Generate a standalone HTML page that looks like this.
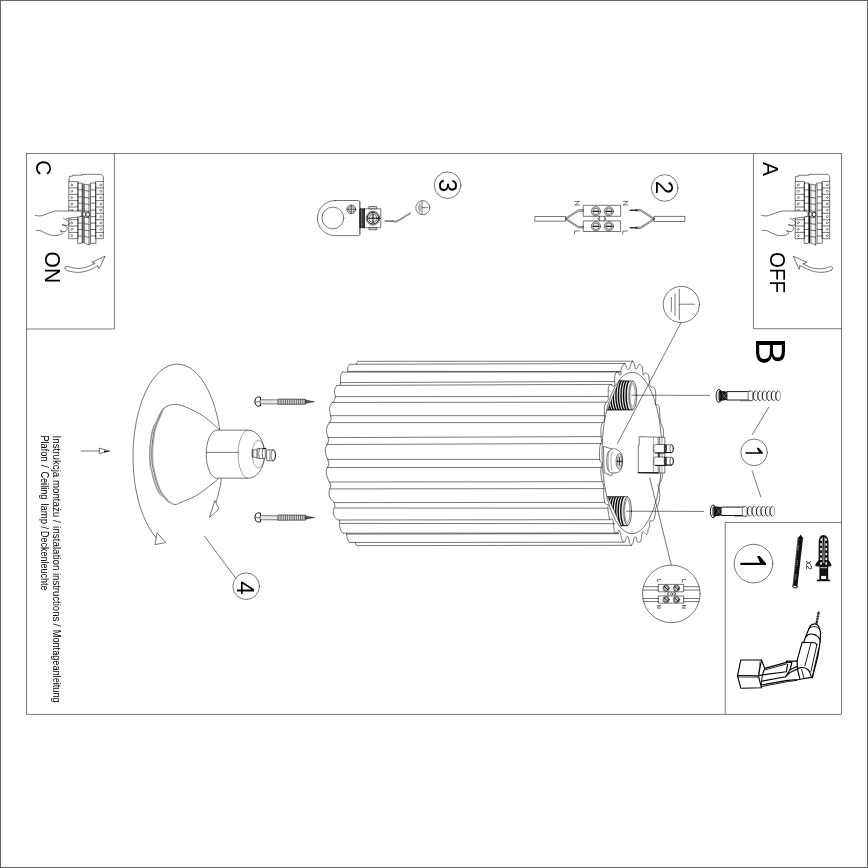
<!DOCTYPE html>
<html><head><meta charset="utf-8"><title>Instrukcja montazu</title>
<style>
html,body{margin:0;padding:0;background:#fff;}
body{width:868px;height:868px;overflow:hidden;position:relative;font-family:"Liberation Sans",sans-serif;}
#b{position:absolute;left:0;top:0;width:866px;height:866px;border:1px solid #666;}
svg{position:absolute;left:0;top:0;will-change:transform;}
svg text{font-family:"Liberation Sans",sans-serif;fill:#000;}
.t{fill:none;stroke:#000;stroke-width:.54;stroke-linejoin:round;stroke-linecap:round}
.f{fill:none;stroke:#000;stroke-width:.52}
.g{fill:none;stroke:#000;stroke-width:.35;stroke-linejoin:round}
.m{fill:none;stroke:#000;stroke-width:.9;stroke-linejoin:round;stroke-linecap:round}
.k{fill:none;stroke:#000;stroke-width:1.4;stroke-linejoin:round}
.b{fill:none;stroke:#000;stroke-width:1.15;stroke-linejoin:round;stroke-linecap:round}
.w{fill:#fff;stroke:#000;stroke-width:.54;stroke-linejoin:round}
.d{fill:#000;stroke:none}
</style></head><body>
<div id="b"></div>
<svg width="868" height="868" viewBox="0 0 868 868">
<!-- frame -->
<rect class="f" x="26.6" y="153.5" width="815.0" height="560.7" />
<path class="f" d="M26.6,329.0 L114.4,329.0 L114.4,153.5" />
<path class="f" d="M753.4,153.5 L753.4,328.7 L841.6,328.7" />
<path class="f" d="M725.2,714.2 L725.2,522.4 L841.6,522.4" />
<text transform="translate(35.8,160.3) rotate(90) scale(0.930,1)" font-size="22.6" >C</text>
<text transform="translate(762.8,162.0) rotate(90) scale(0.930,1)" font-size="22.6" >A</text>
<text transform="translate(44.9,251.6) rotate(90) scale(0.930,1)" font-size="22.6" >ON</text>
<text transform="translate(770.3,252.0) rotate(90) scale(0.905,1)" font-size="22.6" >OFF</text>
<text transform="translate(755.8,337.7) rotate(90) scale(0.965,1)" font-size="42.5" >B</text>
<text transform="translate(52.8,435.6) rotate(90)" font-size="10.3" textLength="87.0" lengthAdjust="spacingAndGlyphs">Instrukcja monta&#380;u /</text>
<text transform="translate(52.8,526.0) rotate(90)" font-size="10.3" textLength="44.6" lengthAdjust="spacingAndGlyphs">instalation</text>
<text transform="translate(52.8,573.0) rotate(90)" font-size="10.3" textLength="48.2" lengthAdjust="spacingAndGlyphs">instructions</text>
<text transform="translate(52.8,623.4) rotate(90)" font-size="10.3" textLength="3.0" lengthAdjust="spacingAndGlyphs">/</text>
<text transform="translate(52.8,629.8) rotate(90)" font-size="10.3" textLength="72.8" lengthAdjust="spacingAndGlyphs">Montageanleitung</text>
<text transform="translate(40.6,435.4) rotate(90)" font-size="10.3" textLength="26.0" lengthAdjust="spacingAndGlyphs">Plafon</text>
<text transform="translate(40.6,464.8) rotate(90)" font-size="10.3" textLength="3.0" lengthAdjust="spacingAndGlyphs">/</text>
<text transform="translate(40.6,471.4) rotate(90)" font-size="10.3" textLength="28.0" lengthAdjust="spacingAndGlyphs">Ceiling</text>
<text transform="translate(40.6,503.4) rotate(90)" font-size="10.3" textLength="20.8" lengthAdjust="spacingAndGlyphs">lamp</text>
<text transform="translate(40.6,526.2) rotate(90)" font-size="10.3" textLength="3.0" lengthAdjust="spacingAndGlyphs">/</text>
<text transform="translate(40.6,531.0) rotate(90)" font-size="10.3" textLength="59.4" lengthAdjust="spacingAndGlyphs">Deckenleuchte</text>
<g transform="translate(0.0,0)">
<path class="t" d="M69.2,181.6 L69.2,176.3 L72.4,176.3 L72.4,175.2 L82.5,175.2 L82.5,174.3 L101.4,174.3 L103.3,176.5 L103.3,181.6" />
<rect class="t" x="69.2" y="181.6" width="8.9" height="57.1" />
<line class="t" x1="69.2" y1="187.9" x2="78.1" y2="187.9" />
<line class="t" x1="69.2" y1="194.3" x2="78.1" y2="194.3" />
<line class="t" x1="69.2" y1="200.6" x2="78.1" y2="200.6" />
<line class="t" x1="69.2" y1="207.0" x2="78.1" y2="207.0" />
<line class="t" x1="69.2" y1="213.3" x2="78.1" y2="213.3" />
<line class="t" x1="69.2" y1="219.7" x2="78.1" y2="219.7" />
<line class="t" x1="69.2" y1="226.0" x2="78.1" y2="226.0" />
<line class="t" x1="69.2" y1="232.4" x2="78.1" y2="232.4" />
<path class="t" d="M71.0,184.8 L72.0,183.8 L73.0,184.8 L72.0,185.8 Z" />
<path class="t" d="M71.0,191.1 L72.0,190.1 L73.0,191.1 L72.0,192.1 Z" />
<path class="t" d="M71.0,197.5 L72.0,196.5 L73.0,197.5 L72.0,198.5 Z" />
<path class="t" d="M71.0,203.8 L72.0,202.8 L73.0,203.8 L72.0,204.8 Z" />
<path class="t" d="M71.0,210.1 L72.0,209.1 L73.0,210.1 L72.0,211.1 Z" />
<path class="t" d="M71.0,216.5 L72.0,215.5 L73.0,216.5 L72.0,217.5 Z" />
<path class="t" d="M71.0,222.8 L72.0,221.8 L73.0,222.8 L72.0,223.8 Z" />
<path class="t" d="M71.0,229.2 L72.0,228.2 L73.0,229.2 L72.0,230.2 Z" />
<path class="t" d="M71.0,235.5 L72.0,234.5 L73.0,235.5 L72.0,236.5 Z" />
<rect class="t" x="95.9" y="181.6" width="7.4" height="57.1" />
<line class="t" x1="95.9" y1="187.9" x2="103.3" y2="187.9" />
<line class="t" x1="95.9" y1="194.3" x2="103.3" y2="194.3" />
<line class="t" x1="95.9" y1="200.6" x2="103.3" y2="200.6" />
<line class="t" x1="95.9" y1="207.0" x2="103.3" y2="207.0" />
<line class="t" x1="95.9" y1="213.3" x2="103.3" y2="213.3" />
<line class="t" x1="95.9" y1="219.7" x2="103.3" y2="219.7" />
<line class="t" x1="95.9" y1="226.0" x2="103.3" y2="226.0" />
<line class="t" x1="95.9" y1="232.4" x2="103.3" y2="232.4" />
<path class="t" d="M100.0,184.8 L101.0,183.8 L102.0,184.8 L101.0,185.8 Z" />
<path class="t" d="M100.0,191.1 L101.0,190.1 L102.0,191.1 L101.0,192.1 Z" />
<path class="t" d="M100.0,197.5 L101.0,196.5 L102.0,197.5 L101.0,198.5 Z" />
<path class="t" d="M100.0,203.8 L101.0,202.8 L102.0,203.8 L101.0,204.8 Z" />
<path class="t" d="M100.0,210.1 L101.0,209.1 L102.0,210.1 L101.0,211.1 Z" />
<path class="t" d="M100.0,216.5 L101.0,215.5 L102.0,216.5 L101.0,217.5 Z" />
<path class="t" d="M100.0,222.8 L101.0,221.8 L102.0,222.8 L101.0,223.8 Z" />
<path class="t" d="M100.0,229.2 L101.0,228.2 L102.0,229.2 L101.0,230.2 Z" />
<path class="t" d="M100.0,235.5 L101.0,234.5 L102.0,235.5 L101.0,236.5 Z" />
<rect class="t" x="78.1" y="183.0" width="4.0" height="60.3" />
<rect class="t" x="90.7" y="183.0" width="5.2" height="60.3" />
<line class="t" x1="78.1" y1="189.9" x2="82.1" y2="189.9" />
<line class="t" x1="90.7" y1="189.9" x2="95.9" y2="189.9" />
<line class="t" x1="78.1" y1="196.8" x2="82.1" y2="196.8" />
<line class="t" x1="90.7" y1="196.8" x2="95.9" y2="196.8" />
<line class="t" x1="78.1" y1="203.2" x2="82.1" y2="203.2" />
<line class="t" x1="90.7" y1="203.2" x2="95.9" y2="203.2" />
<line class="t" x1="78.1" y1="210.2" x2="82.1" y2="210.2" />
<line class="t" x1="90.7" y1="210.2" x2="95.9" y2="210.2" />
<line class="t" x1="78.1" y1="216.6" x2="82.1" y2="216.6" />
<line class="t" x1="90.7" y1="216.6" x2="95.9" y2="216.6" />
<line class="t" x1="78.1" y1="223.1" x2="82.1" y2="223.1" />
<line class="t" x1="90.7" y1="223.1" x2="95.9" y2="223.1" />
<line class="t" x1="78.1" y1="229.5" x2="82.1" y2="229.5" />
<line class="t" x1="90.7" y1="229.5" x2="95.9" y2="229.5" />
<line class="t" x1="78.1" y1="236.0" x2="82.1" y2="236.0" />
<line class="t" x1="90.7" y1="236.0" x2="95.9" y2="236.0" />
<rect class="d" x="82.5" y="183.5" width="1.0" height="59.8" />
<path d="M84.4,184 L89,185 L90.6,185 L90.6,243.3 L89,244.9 L84.4,243 Z" fill="#f6f6f6" stroke="#000" stroke-width=".5"/>
<line class="t" x1="89.0" y1="185.0" x2="89.0" y2="244.9" />
<line class="t" x1="84.4" y1="190.5" x2="89.0" y2="191.1" />
<line class="t" x1="84.4" y1="197.4" x2="89.0" y2="198.0" />
<line class="t" x1="84.4" y1="203.8" x2="89.0" y2="204.4" />
<line class="t" x1="84.4" y1="210.8" x2="89.0" y2="211.4" />
<line class="t" x1="84.4" y1="217.2" x2="89.0" y2="217.8" />
<line class="t" x1="84.4" y1="223.7" x2="89.0" y2="224.3" />
<line class="t" x1="84.4" y1="230.1" x2="89.0" y2="230.7" />
<line class="t" x1="84.4" y1="236.6" x2="89.0" y2="237.2" />
<ellipse class="w" cx="84.2" cy="214.2" rx="1.6" ry="2.1" />
<ellipse class="w" cx="87.6" cy="214.5" rx="1.9" ry="2.3" style="stroke-width:.8"/>
<path class="w" style="stroke:none" d="M55,211.2 L80.8,211.2 L81.5,214 L80,216.8 L67,218.4 L62,218.6 L45,216 Z"/>
<path class="t" d="M35.1,215.3 C35.7,215.4 37.4,215.9 38.5,215.9 C39.6,215.9 40.5,216.0 42.0,215.6 C43.5,215.2 45.4,214.3 47.5,213.6 C49.6,212.9 52.5,211.6 54.9,211.2 C57.3,210.8 59.5,211.0 62.0,211.0 C64.5,211.0 67.2,211.0 70.0,211.0 C72.8,211.0 76.6,210.9 78.5,211.1 C80.4,211.3 80.9,211.8 81.4,212.3 C81.9,212.8 81.8,213.6 81.7,214.3 C81.6,215.0 81.5,215.9 80.6,216.4 C79.6,216.9 77.8,217.0 76.0,217.3 C74.2,217.6 71.5,217.8 70.0,218.0 C68.5,218.2 67.4,218.4 66.9,218.5" />
<path class="t" d="M63.6,218.4 C64.0,218.6 65.1,219.0 66.0,219.6 C66.9,220.2 68.3,221.1 68.8,221.8 C69.3,222.5 69.3,223.2 69.2,223.8 C69.1,224.4 68.8,225.0 68.0,225.2 C67.2,225.4 65.5,225.3 64.5,225.2 C63.5,225.1 62.7,224.9 62.3,224.8" />
<path class="t" d="M62.3,224.8 C62.8,224.9 64.2,225.2 65.0,225.6 C65.8,226.0 66.7,226.7 67.0,227.4 C67.3,228.1 67.1,229.1 66.8,229.8 C66.5,230.5 65.7,231.2 65.0,231.5 C64.3,231.8 63.3,231.4 62.5,231.3 C61.7,231.2 60.8,230.9 60.4,230.8" />
<path class="t" d="M60.4,230.8 C60.7,231.0 62.1,231.5 62.3,232.0 C62.5,232.5 62.4,233.3 61.8,233.8 C61.2,234.3 59.8,234.9 58.5,235.2 C57.2,235.5 55.5,235.7 54.0,235.6 C52.5,235.5 50.9,235.2 49.5,234.8 C48.1,234.4 47.1,233.9 45.7,233.3 C44.3,232.7 42.3,231.5 41.1,231.0 C39.9,230.5 39.4,230.4 38.5,230.3 C37.6,230.2 36.4,230.5 36.0,230.5" />
</g>
<g transform="translate(726.4,0)">
<path class="t" d="M69.2,181.6 L69.2,176.3 L72.4,176.3 L72.4,175.2 L82.5,175.2 L82.5,174.3 L101.4,174.3 L103.3,176.5 L103.3,181.6" />
<rect class="t" x="69.2" y="181.6" width="8.9" height="57.1" />
<line class="t" x1="69.2" y1="187.9" x2="78.1" y2="187.9" />
<line class="t" x1="69.2" y1="194.3" x2="78.1" y2="194.3" />
<line class="t" x1="69.2" y1="200.6" x2="78.1" y2="200.6" />
<line class="t" x1="69.2" y1="207.0" x2="78.1" y2="207.0" />
<line class="t" x1="69.2" y1="213.3" x2="78.1" y2="213.3" />
<line class="t" x1="69.2" y1="219.7" x2="78.1" y2="219.7" />
<line class="t" x1="69.2" y1="226.0" x2="78.1" y2="226.0" />
<line class="t" x1="69.2" y1="232.4" x2="78.1" y2="232.4" />
<path class="t" d="M71.0,184.8 L72.0,183.8 L73.0,184.8 L72.0,185.8 Z" />
<path class="t" d="M71.0,191.1 L72.0,190.1 L73.0,191.1 L72.0,192.1 Z" />
<path class="t" d="M71.0,197.5 L72.0,196.5 L73.0,197.5 L72.0,198.5 Z" />
<path class="t" d="M71.0,203.8 L72.0,202.8 L73.0,203.8 L72.0,204.8 Z" />
<path class="t" d="M71.0,210.1 L72.0,209.1 L73.0,210.1 L72.0,211.1 Z" />
<path class="t" d="M71.0,216.5 L72.0,215.5 L73.0,216.5 L72.0,217.5 Z" />
<path class="t" d="M71.0,222.8 L72.0,221.8 L73.0,222.8 L72.0,223.8 Z" />
<path class="t" d="M71.0,229.2 L72.0,228.2 L73.0,229.2 L72.0,230.2 Z" />
<path class="t" d="M71.0,235.5 L72.0,234.5 L73.0,235.5 L72.0,236.5 Z" />
<rect class="t" x="95.9" y="181.6" width="7.4" height="57.1" />
<line class="t" x1="95.9" y1="187.9" x2="103.3" y2="187.9" />
<line class="t" x1="95.9" y1="194.3" x2="103.3" y2="194.3" />
<line class="t" x1="95.9" y1="200.6" x2="103.3" y2="200.6" />
<line class="t" x1="95.9" y1="207.0" x2="103.3" y2="207.0" />
<line class="t" x1="95.9" y1="213.3" x2="103.3" y2="213.3" />
<line class="t" x1="95.9" y1="219.7" x2="103.3" y2="219.7" />
<line class="t" x1="95.9" y1="226.0" x2="103.3" y2="226.0" />
<line class="t" x1="95.9" y1="232.4" x2="103.3" y2="232.4" />
<path class="t" d="M100.0,184.8 L101.0,183.8 L102.0,184.8 L101.0,185.8 Z" />
<path class="t" d="M100.0,191.1 L101.0,190.1 L102.0,191.1 L101.0,192.1 Z" />
<path class="t" d="M100.0,197.5 L101.0,196.5 L102.0,197.5 L101.0,198.5 Z" />
<path class="t" d="M100.0,203.8 L101.0,202.8 L102.0,203.8 L101.0,204.8 Z" />
<path class="t" d="M100.0,210.1 L101.0,209.1 L102.0,210.1 L101.0,211.1 Z" />
<path class="t" d="M100.0,216.5 L101.0,215.5 L102.0,216.5 L101.0,217.5 Z" />
<path class="t" d="M100.0,222.8 L101.0,221.8 L102.0,222.8 L101.0,223.8 Z" />
<path class="t" d="M100.0,229.2 L101.0,228.2 L102.0,229.2 L101.0,230.2 Z" />
<path class="t" d="M100.0,235.5 L101.0,234.5 L102.0,235.5 L101.0,236.5 Z" />
<rect class="t" x="78.1" y="183.0" width="4.0" height="60.3" />
<rect class="t" x="90.7" y="183.0" width="5.2" height="60.3" />
<line class="t" x1="78.1" y1="189.9" x2="82.1" y2="189.9" />
<line class="t" x1="90.7" y1="189.9" x2="95.9" y2="189.9" />
<line class="t" x1="78.1" y1="196.8" x2="82.1" y2="196.8" />
<line class="t" x1="90.7" y1="196.8" x2="95.9" y2="196.8" />
<line class="t" x1="78.1" y1="203.2" x2="82.1" y2="203.2" />
<line class="t" x1="90.7" y1="203.2" x2="95.9" y2="203.2" />
<line class="t" x1="78.1" y1="210.2" x2="82.1" y2="210.2" />
<line class="t" x1="90.7" y1="210.2" x2="95.9" y2="210.2" />
<line class="t" x1="78.1" y1="216.6" x2="82.1" y2="216.6" />
<line class="t" x1="90.7" y1="216.6" x2="95.9" y2="216.6" />
<line class="t" x1="78.1" y1="223.1" x2="82.1" y2="223.1" />
<line class="t" x1="90.7" y1="223.1" x2="95.9" y2="223.1" />
<line class="t" x1="78.1" y1="229.5" x2="82.1" y2="229.5" />
<line class="t" x1="90.7" y1="229.5" x2="95.9" y2="229.5" />
<line class="t" x1="78.1" y1="236.0" x2="82.1" y2="236.0" />
<line class="t" x1="90.7" y1="236.0" x2="95.9" y2="236.0" />
<rect class="d" x="82.5" y="183.5" width="1.0" height="59.8" />
<path d="M84.4,184 L89,185 L90.6,185 L90.6,243.3 L89,244.9 L84.4,243 Z" fill="#f6f6f6" stroke="#000" stroke-width=".5"/>
<line class="t" x1="89.0" y1="185.0" x2="89.0" y2="244.9" />
<line class="t" x1="84.4" y1="190.5" x2="89.0" y2="191.1" />
<line class="t" x1="84.4" y1="197.4" x2="89.0" y2="198.0" />
<line class="t" x1="84.4" y1="203.8" x2="89.0" y2="204.4" />
<line class="t" x1="84.4" y1="210.8" x2="89.0" y2="211.4" />
<line class="t" x1="84.4" y1="217.2" x2="89.0" y2="217.8" />
<line class="t" x1="84.4" y1="223.7" x2="89.0" y2="224.3" />
<line class="t" x1="84.4" y1="230.1" x2="89.0" y2="230.7" />
<line class="t" x1="84.4" y1="236.6" x2="89.0" y2="237.2" />
<ellipse class="w" cx="84.2" cy="214.2" rx="1.6" ry="2.1" />
<ellipse class="w" cx="87.6" cy="214.5" rx="1.9" ry="2.3" style="stroke-width:.8"/>
<path class="w" style="stroke:none" d="M55,211.2 L80.8,211.2 L81.5,214 L80,216.8 L67,218.4 L62,218.6 L45,216 Z"/>
<path class="t" d="M35.1,215.3 C35.7,215.4 37.4,215.9 38.5,215.9 C39.6,215.9 40.5,216.0 42.0,215.6 C43.5,215.2 45.4,214.3 47.5,213.6 C49.6,212.9 52.5,211.6 54.9,211.2 C57.3,210.8 59.5,211.0 62.0,211.0 C64.5,211.0 67.2,211.0 70.0,211.0 C72.8,211.0 76.6,210.9 78.5,211.1 C80.4,211.3 80.9,211.8 81.4,212.3 C81.9,212.8 81.8,213.6 81.7,214.3 C81.6,215.0 81.5,215.9 80.6,216.4 C79.6,216.9 77.8,217.0 76.0,217.3 C74.2,217.6 71.5,217.8 70.0,218.0 C68.5,218.2 67.4,218.4 66.9,218.5" />
<path class="t" d="M63.6,218.4 C64.0,218.6 65.1,219.0 66.0,219.6 C66.9,220.2 68.3,221.1 68.8,221.8 C69.3,222.5 69.3,223.2 69.2,223.8 C69.1,224.4 68.8,225.0 68.0,225.2 C67.2,225.4 65.5,225.3 64.5,225.2 C63.5,225.1 62.7,224.9 62.3,224.8" />
<path class="t" d="M62.3,224.8 C62.8,224.9 64.2,225.2 65.0,225.6 C65.8,226.0 66.7,226.7 67.0,227.4 C67.3,228.1 67.1,229.1 66.8,229.8 C66.5,230.5 65.7,231.2 65.0,231.5 C64.3,231.8 63.3,231.4 62.5,231.3 C61.7,231.2 60.8,230.9 60.4,230.8" />
<path class="t" d="M60.4,230.8 C60.7,231.0 62.1,231.5 62.3,232.0 C62.5,232.5 62.4,233.3 61.8,233.8 C61.2,234.3 59.8,234.9 58.5,235.2 C57.2,235.5 55.5,235.7 54.0,235.6 C52.5,235.5 50.9,235.2 49.5,234.8 C48.1,234.4 47.1,233.9 45.7,233.3 C44.3,232.7 42.3,231.5 41.1,231.0 C39.9,230.5 39.4,230.4 38.5,230.3 C37.6,230.2 36.4,230.5 36.0,230.5" />
</g>
<path class="t" d="M65.0,268.2 C65.1,267.9 65.1,266.9 65.6,266.6 C66.1,266.3 66.6,266.2 68.0,266.4 C69.4,266.6 72.2,267.7 74.2,268.0 C76.2,268.3 78.0,268.5 80.0,268.4 C82.0,268.3 84.2,267.7 86.0,267.2 C87.8,266.7 89.6,265.8 91.0,265.2 C92.4,264.6 94.0,263.7 94.6,263.4" />
<path class="t" d="M94.6,263.4 L91.8,262.2 L105.1,256.2 L99.1,268.6 L97.7,265.9" />
<path class="t" d="M97.7,265.9 C96.8,266.4 94.1,268.1 92.0,269.0 C89.9,269.9 87.5,270.7 85.3,271.3 C83.1,271.9 81.2,272.3 79.0,272.4 C76.8,272.5 74.0,272.1 72.0,271.8 C70.0,271.5 68.1,271.0 66.9,270.4 C65.7,269.8 65.3,268.6 65.0,268.2" />
<path class="t" d="M803.3,263.7 L806.8,262.3 L793.3,256.2 L799.2,269.5 L799.9,265.7" />
<path class="t" d="M803.3,263.7 C804.0,264.1 806.0,265.5 807.5,266.2 C809.0,266.9 810.9,267.7 812.6,268.1 C814.4,268.5 816.3,268.7 818.0,268.8 C819.7,268.9 821.4,268.7 823.0,268.5 C824.6,268.3 826.2,268.0 827.5,267.6 C828.8,267.2 829.8,266.4 830.6,266.4 C831.5,266.4 832.3,267.2 832.6,267.7 C832.9,268.2 832.6,268.8 832.4,269.2 C832.2,269.6 831.5,270.0 831.3,270.2" />
<path class="t" d="M831.3,270.2 C830.6,270.4 828.4,271.2 827.0,271.6 C825.6,272.0 824.4,272.2 823.0,272.3 C821.6,272.4 819.9,272.3 818.5,272.2 C817.1,272.1 816.1,271.9 814.7,271.6 C813.3,271.3 811.5,270.8 810.0,270.2 C808.5,269.6 807.4,269.1 805.7,268.3 C804.0,267.6 800.9,266.1 799.9,265.7" />
<circle class="t" cx="447.6" cy="185.2" r="13.3" />
<text transform="translate(439.0,185.6) rotate(90) scale(0.970,1)" font-size="25.0" text-anchor="middle">3</text>
<circle class="t" cx="664.7" cy="188.0" r="13.3" />
<text transform="translate(656.1,187.4) rotate(90) scale(1.000,1)" font-size="24.0" text-anchor="middle">2</text>
<circle class="t" cx="754.1" cy="452.4" r="13.3" />
<path class="d" d="M745.5,452.2 L758.8,452.2 L756.7,447.7 L758.7,447.7 L762.8,452.5 L762.8,453.8 L745.5,453.8 Z"/>
<circle class="t" cx="246.2" cy="586.2" r="13.3" />
<text transform="translate(236.8,588.0) rotate(90) scale(1.000,1)" font-size="24.0" text-anchor="middle">4</text>
<circle class="t" cx="753.5" cy="563.6" r="19.3" />
<path class="d" d="M740.4,562.8 L760.1,562.8 L757.0,556.1 L759.7,556.1 L766.0,563.2 L766.0,564.9 L740.4,564.9 Z"/>
<path class="t" d="M335.2,200.5 L358.4,200.5 Q359.6,200.5 359.6,201.7 L359.6,234.4 Q359.6,235.6 358.4,235.6 L335.2,235.6 A17.8,17.55 0 0 1 335.2,200.5 Z"/>
<line class="g" x1="360.4" y1="201.5" x2="360.4" y2="234.6" />
<circle class="t" cx="332.9" cy="218.0" r="10.9" />
<circle class="t" cx="351.3" cy="209.3" r="4.4" style="fill:#ddd"/>
<circle class="g" cx="351.3" cy="209.3" r="2.8" />
<line class="t" x1="347.0" y1="209.3" x2="355.6" y2="209.3" />
<line class="t" x1="351.3" y1="205.0" x2="351.3" y2="213.6" />
<rect class="t" x="360.2" y="208.8" width="4.1" height="18.9" style="fill:#999"/>
<line class="m" x1="360.3" y1="208.8" x2="360.3" y2="227.7" />
<line class="m" x1="362.2" y1="208.8" x2="362.2" y2="227.7" />
<line class="m" x1="364.1" y1="208.8" x2="364.1" y2="227.7" />
<rect class="t" x="364.3" y="208.8" width="16.5" height="18.9" />
<rect class="t" x="369.3" y="206.5" width="7.4" height="2.3" style="fill:#ddd"/>
<rect class="t" x="369.3" y="227.7" width="7.4" height="2.0" style="fill:#ddd"/>
<circle class="t" cx="373.0" cy="218.2" r="6.9" />
<circle class="m" cx="373.0" cy="218.2" r="5.8" />
<circle class="t" cx="373.0" cy="218.2" r="4.2" style="fill:#e4e4e4"/>
<line class="m" x1="368.6" y1="218.2" x2="377.4" y2="218.2" />
<line class="m" x1="373.0" y1="213.8" x2="373.0" y2="222.6" />
<line class="m" x1="385.2" y1="221.0" x2="393.0" y2="221.1" />
<path class="g" d="M392.5,220.6 C392.8,220.8 393.8,221.6 394.5,221.7 C395.2,221.8 395.8,221.8 397.0,221.2 C398.2,220.6 400.4,219.1 402.0,218.0 C403.6,216.9 405.1,215.7 406.5,214.8 C407.9,213.9 409.9,213.0 410.6,212.6" />
<path class="g" d="M393.5,221.6 C393.9,221.7 395.1,222.5 396.0,222.4 C396.9,222.3 397.7,221.6 399.0,220.8 C400.3,220.0 402.5,218.5 404.0,217.6 C405.5,216.7 406.8,216.1 408.0,215.4 C409.2,214.7 410.5,213.9 411.0,213.6" />
<path class="g" d="M392.8,221.2 C393.5,221.0 395.6,220.6 397.0,220.2 C398.4,219.8 399.7,219.6 401.0,218.9 C402.3,218.2 403.4,217.3 405.0,216.3 C406.6,215.3 409.8,213.6 410.8,213.1" />
<circle class="t" cx="422.8" cy="207.7" r="7.0" />
<line class="t" x1="422.0" y1="201.0" x2="422.0" y2="214.4" />
<line class="t" x1="419.9" y1="203.4" x2="419.9" y2="212.0" />
<line class="g" x1="418.6" y1="205.4" x2="418.6" y2="210.0" />
<line class="t" x1="422.0" y1="207.7" x2="427.8" y2="207.7" />
<rect class="t" x="535.2" y="216.5" width="30.5" height="4.7" />
<rect class="t" x="654.4" y="216.4" width="30.5" height="5.1" />
<path class="t" d="M565.7,218.1 L578.4,209.8 L583.6,209.8" />
<path class="t" d="M565.7,218.1 L578.4,226.4 L583.6,226.4" />
<path class="t" d="M654.4,218.3 L640.5,209.5 L636.0,209.5" />
<path class="t" d="M654.4,218.3 L640.5,227.1 L636.0,227.1" />
<path class="t" d="M565.7,219.5 L578.4,211.2 L583.6,211.2" />
<path class="t" d="M565.7,219.5 L578.4,227.8 L583.6,227.8" />
<path class="t" d="M654.4,219.7 L640.5,210.9 L636.0,210.9" />
<path class="t" d="M654.4,219.7 L640.5,228.5 L636.0,228.5" />
<line class="k" x1="629.6" y1="210.2" x2="637.5" y2="210.2" style="stroke-width:1.2"/>
<line class="k" x1="629.6" y1="227.8" x2="637.5" y2="227.8" style="stroke-width:1.2"/>
<rect class="t" x="583.6" y="205.3" width="37.0" height="11.0" />
<rect class="t" x="583.6" y="220.9" width="37.0" height="10.6" />
<path class="t" d="M599.7,216.3 L599.7,218.0 L598.0,218.0 L598.0,219.3 L599.7,219.3 L599.7,220.9" />
<path class="t" d="M604.3,216.3 L604.3,218.0 L606.0,218.0 L606.0,219.3 L604.3,219.3 L604.3,220.9" />
<circle class="t" cx="595.9" cy="211.3" r="4.6" />
<circle class="t" cx="595.9" cy="211.3" r="3.3" style="fill:#eee"/>
<line class="k" x1="592.9" y1="211.3" x2="598.9" y2="211.3" style="stroke-width:1.1"/>
<circle class="t" cx="608.9" cy="211.3" r="4.6" />
<circle class="t" cx="608.9" cy="211.3" r="3.3" style="fill:#eee"/>
<line class="k" x1="605.9" y1="211.3" x2="611.9" y2="211.3" style="stroke-width:1.1"/>
<circle class="t" cx="595.9" cy="226.3" r="4.6" />
<circle class="t" cx="595.9" cy="226.3" r="3.3" style="fill:#eee"/>
<line class="k" x1="592.9" y1="226.3" x2="598.9" y2="226.3" style="stroke-width:1.1"/>
<circle class="t" cx="608.9" cy="226.3" r="4.6" />
<circle class="t" cx="608.9" cy="226.3" r="3.3" style="fill:#eee"/>
<line class="k" x1="605.9" y1="226.3" x2="611.9" y2="226.3" style="stroke-width:1.1"/>
<path class="t" d="M574.8,201.4 L579.6,201.4 L574.8,205.0 L579.6,205.0" />
<path class="t" d="M623.2,201.4 L628.0,201.4 L623.2,205.0 L628.0,205.0" />
<path class="t" d="M574.5,234.0 L574.5,231.0 L579.3,231.0" />
<path class="t" d="M622.8,234.0 L622.8,231.0 L627.6,231.0" />
<!-- lamp -->
<line class="t" x1="358.2" y1="361.3" x2="632.7" y2="361.2" />
<line class="t" x1="350.1" y1="364.3" x2="625.0" y2="363.5" />
<line class="t" x1="347.8" y1="371.4" x2="620.6" y2="371.5" />
<line class="t" x1="342.6" y1="372.1" x2="620.4" y2="372.0" />
<line class="t" x1="340.6" y1="382.6" x2="614.6" y2="381.5" />
<line class="t" x1="336.9" y1="385.4" x2="611.7" y2="384.4" />
<line class="t" x1="335.5" y1="396.7" x2="608.2" y2="396.5" />
<line class="t" x1="332.3" y1="402.4" x2="606.5" y2="402.2" />
<line class="t" x1="330.6" y1="415.7" x2="604.3" y2="415.7" />
<line class="t" x1="329.4" y1="422.6" x2="602.8" y2="422.6" />
<line class="t" x1="328.2" y1="437.6" x2="601.1" y2="436.6" />
<line class="t" x1="327.1" y1="444.5" x2="600.9" y2="443.5" />
<line class="t" x1="327.7" y1="459.4" x2="599.7" y2="459.4" />
<line class="t" x1="327.7" y1="467.5" x2="601.1" y2="467.5" />
<line class="t" x1="329.4" y1="482.0" x2="602.3" y2="481.7" />
<line class="t" x1="330.6" y1="488.9" x2="604.0" y2="488.6" />
<line class="t" x1="334.0" y1="502.6" x2="604.6" y2="502.4" />
<line class="t" x1="335.5" y1="508.0" x2="608.0" y2="508.2" />
<line class="t" x1="339.8" y1="520.0" x2="609.7" y2="519.7" />
<line class="t" x1="340.3" y1="523.4" x2="614.4" y2="523.7" />
<line class="t" x1="343.2" y1="533.2" x2="618.4" y2="533.0" />
<line class="t" x1="346.7" y1="534.1" x2="618.6" y2="533.7" />
<line class="t" x1="349.6" y1="542.5" x2="624.1" y2="542.2" />
<line class="t" x1="357.0" y1="545.6" x2="631.4" y2="545.3" />
<path class="t" d="M358.2,361.3 C358.0,361.5 357.1,362.1 356.8,362.6 C356.5,363.1 356.3,364.0 356.2,364.3" />
<path class="t" d="M350.1,364.3 C349.8,364.6 348.8,365.5 348.4,366.2 C348.0,366.9 347.9,367.5 347.8,368.4 C347.7,369.3 347.8,371.1 347.8,371.6" />
<path class="t" d="M342.6,372.1 C342.4,372.5 341.5,373.5 341.2,374.2 C340.9,374.9 340.7,375.5 340.6,376.5 C340.5,377.5 340.5,379.0 340.5,380.0 C340.5,381.0 340.6,381.8 340.6,382.6 C340.6,383.4 340.6,384.3 340.6,384.6" />
<path class="t" d="M336.9,385.4 C336.6,385.8 335.8,386.8 335.4,387.6 C335.0,388.4 334.7,389.3 334.6,390.3 C334.5,391.3 334.5,392.6 334.6,393.6 C334.7,394.7 335.4,395.6 335.4,396.6 C335.4,397.6 334.9,398.7 334.6,399.5 C334.3,400.3 334.0,401.1 333.6,401.6 C333.2,402.1 332.5,402.3 332.3,402.4" />
<path class="t" d="M332.3,402.4 C332.0,402.8 331.0,403.7 330.6,404.6 C330.2,405.5 329.8,406.4 329.7,407.6 C329.6,408.8 329.6,410.5 329.8,411.8 C330.0,413.1 330.4,414.5 330.6,415.7 C330.8,416.9 331.1,418.2 331.1,419.1 C331.1,420.1 330.7,420.8 330.4,421.4 C330.1,422.0 329.6,422.4 329.4,422.6" />
<path class="t" d="M329.4,422.6 C329.1,423.1 328.1,424.5 327.6,425.6 C327.1,426.8 326.6,428.1 326.5,429.5 C326.4,430.9 326.6,432.4 326.9,433.8 C327.2,435.2 327.9,436.4 328.2,437.6 C328.4,438.8 328.4,440.1 328.4,441.0 C328.3,441.9 328.1,442.6 327.9,443.2 C327.7,443.8 327.2,444.3 327.1,444.5" />
<path class="t" d="M327.1,444.5 C326.9,444.9 326.1,446.1 325.8,447.0 C325.5,447.9 325.3,448.7 325.3,450.0 C325.3,451.3 325.4,453.0 325.8,454.6 C326.2,456.2 327.2,458.1 327.7,459.4 C328.2,460.7 328.5,461.4 328.7,462.4 C328.9,463.4 328.8,464.3 328.6,465.2 C328.4,466.1 327.6,467.1 327.4,467.5" />
<path class="t" d="M327.4,467.5 C327.2,467.9 326.6,469.1 326.4,470.0 C326.2,470.9 326.1,471.7 326.3,473.0 C326.5,474.3 326.9,476.3 327.4,477.8 C327.9,479.3 328.9,480.8 329.4,482.0 C329.9,483.2 330.4,484.3 330.6,485.2 C330.8,486.1 330.6,486.8 330.5,487.4 C330.4,488.0 329.8,488.6 329.7,488.9" />
<path class="t" d="M329.7,488.9 C329.6,489.5 329.1,491.2 329.0,492.4 C328.9,493.6 329.0,494.9 329.4,496.1 C329.8,497.3 330.5,498.7 331.3,499.8 C332.1,500.9 333.4,501.6 334.0,502.6 C334.6,503.6 334.8,504.8 334.9,505.6 C335.0,506.4 334.8,506.7 334.7,507.2 C334.6,507.7 334.1,508.2 334.0,508.4" />
<path class="t" d="M334.0,508.4 C333.9,508.9 333.4,510.4 333.3,511.4 C333.2,512.4 333.3,513.5 333.6,514.5 C333.9,515.5 334.6,516.8 335.2,517.6 C335.8,518.5 336.7,519.2 337.5,519.6 C338.3,520.0 339.4,520.1 339.8,520.2" />
<path class="t" d="M339.8,520.2 C339.7,520.8 339.4,522.5 339.4,523.7 C339.4,524.9 339.6,526.1 339.9,527.2 C340.1,528.4 340.3,529.6 340.9,530.6 C341.4,531.6 342.8,532.9 343.2,533.4" />
<path class="t" d="M346.7,533.9 C346.7,534.3 346.7,535.5 346.8,536.4 C346.9,537.3 347.0,538.2 347.5,539.2 C348.0,540.2 349.2,541.7 349.6,542.2" />
<path class="t" d="M355.3,542.5 C355.4,542.8 355.6,544.0 355.9,544.5 C356.2,545.0 356.8,545.4 357.0,545.6" />
<ellipse class="t" cx="632.0" cy="453.0" rx="30.0" ry="80.7" />
<path class="t" d="M632.7,361.2 C632.6,361.3 632.3,361.1 631.9,361.9 C631.5,362.7 630.8,364.8 630.4,365.9 C630.0,367.0 629.7,368.2 629.3,368.8 C628.9,369.4 628.2,369.6 627.8,369.4 C627.4,369.2 627.1,368.6 626.7,367.7 C626.3,366.8 625.5,364.9 625.2,364.2 C624.9,363.5 625.3,363.4 625.0,363.5 C624.7,363.6 623.7,364.2 623.2,364.8 C622.7,365.4 622.2,366.0 621.8,367.1 C621.4,368.2 621.0,370.6 620.9,371.7 C620.8,372.8 621.4,373.4 621.2,374.0 C621.0,374.6 620.3,375.5 619.8,375.2 C619.3,374.9 618.8,372.8 618.3,372.3 C617.8,371.8 617.4,372.0 616.9,372.3 C616.4,372.6 615.6,373.1 615.2,374.0 C614.8,374.9 614.7,376.8 614.6,378.0 C614.5,379.2 614.6,380.3 614.6,381.5 C614.6,382.7 615.1,384.2 614.9,385.0 C614.7,385.8 613.8,386.2 613.4,386.4 C613.0,386.6 612.6,386.4 612.3,386.1 C612.0,385.8 612.2,384.5 611.7,384.4 C611.2,384.3 609.7,384.8 609.1,385.5 C608.5,386.2 608.5,386.6 608.4,388.4 C608.2,390.2 608.2,394.6 608.2,396.5 C608.2,398.4 608.4,398.9 608.1,399.9 C607.8,400.8 607.0,401.5 606.5,402.2 C606.0,402.9 605.6,403.1 605.2,404.0 C604.9,404.9 604.5,405.7 604.4,407.6 C604.2,409.6 604.3,413.6 604.3,415.7 C604.3,417.8 604.8,418.9 604.5,420.0 C604.2,421.1 603.3,421.8 602.8,422.6 C602.3,423.4 601.8,423.7 601.5,425.0 C601.2,426.3 601.0,428.7 600.9,430.6 C600.8,432.5 601.0,434.9 601.1,436.6 C601.2,438.3 601.7,439.9 601.7,441.0 C601.7,442.1 601.2,442.7 600.9,443.5 C600.6,444.3 600.2,444.6 600.0,446.0 C599.8,447.4 599.5,449.8 599.5,452.0 C599.5,454.2 599.5,457.7 599.7,459.4 C599.9,461.1 600.3,461.3 600.7,462.0 C601.1,462.7 602.1,462.6 602.2,463.5 C602.3,464.4 601.3,466.1 601.1,467.5 C600.9,468.9 600.8,470.4 600.8,472.0 C600.8,473.6 601.1,475.4 601.4,477.0 C601.6,478.6 601.9,480.4 602.3,481.7 C602.7,483.0 603.6,483.8 603.8,484.6 C604.0,485.4 603.4,485.9 603.4,486.6 C603.4,487.3 604.0,487.5 604.0,488.6 C604.0,489.7 603.6,491.4 603.6,493.0 C603.6,494.6 603.8,496.4 604.0,498.0 C604.2,499.6 604.4,501.4 604.6,502.4 C604.9,503.4 604.9,503.4 605.5,503.8 C606.1,504.2 608.0,504.5 608.4,505.0 C608.8,505.5 608.0,506.1 607.9,506.6 C607.8,507.1 608.0,507.3 608.0,508.2 C608.0,509.1 608.0,510.7 608.2,512.0 C608.4,513.3 608.8,514.7 609.0,516.0 C609.2,517.3 609.2,519.2 609.7,519.7 C610.2,520.2 611.5,518.7 612.1,518.9 C612.7,519.1 612.9,519.9 613.1,520.7 C613.3,521.6 613.4,522.9 613.5,524.0 C613.6,525.1 613.7,526.5 613.8,527.6 C613.9,528.7 614.1,529.8 614.3,530.6 C614.5,531.4 614.9,532.1 615.2,532.5 C615.6,532.9 616.0,533.1 616.4,533.2 C616.8,533.3 617.0,533.5 617.3,533.2 C617.6,532.9 618.0,531.9 618.2,531.4 C618.4,530.9 618.4,530.5 618.6,530.4 C618.9,530.3 619.4,530.4 619.7,530.8 C620.0,531.2 620.0,532.0 620.2,532.6 C620.4,533.2 620.5,533.8 620.7,534.6 C620.9,535.4 621.1,536.7 621.3,537.6 C621.5,538.5 621.8,539.4 622.1,540.1 C622.4,540.8 622.7,541.4 623.0,541.8 C623.3,542.1 623.5,542.2 623.8,542.2 C624.1,542.2 624.6,542.0 624.9,541.8 C625.2,541.6 625.4,541.3 625.5,540.8 C625.6,540.3 625.7,539.5 625.8,539.0 C625.9,538.5 626.0,538.2 626.2,537.7 C626.5,537.2 627.0,536.4 627.3,536.3 C627.6,536.2 627.9,536.8 628.1,537.2 C628.3,537.6 628.5,538.0 628.7,538.7 C628.9,539.4 629.2,540.6 629.4,541.4 C629.6,542.2 629.7,542.9 630.0,543.5 C630.3,544.1 631.2,545.0 631.4,545.3" />
<path class="t" d="M632.7,361.2 C632.9,361.3 633.3,361.3 633.6,361.9 C633.9,362.5 634.2,363.8 634.5,364.8 C634.8,365.9 635.0,367.5 635.3,368.2 C635.6,368.9 636.1,369.4 636.5,369.1 C636.9,368.8 637.5,367.3 637.9,366.5 C638.3,365.7 638.4,364.8 638.8,364.5 C639.2,364.2 639.9,364.4 640.5,364.8 C641.1,365.2 641.8,366.0 642.2,367.1 C642.6,368.2 642.6,370.4 642.8,371.7 C642.9,373.0 642.9,374.8 643.1,375.2 C643.3,375.6 643.5,374.8 643.9,374.4 C644.3,374.0 644.8,372.9 645.5,373.0 C646.2,373.1 647.6,373.2 648.3,374.8 C649.0,376.4 649.1,380.3 649.5,382.3 C649.9,384.3 650.0,386.1 650.6,386.9 C651.2,387.7 652.2,386.3 653.0,386.9 C653.8,387.5 654.8,388.4 655.3,390.3 C655.8,392.2 655.8,396.1 655.8,398.4 C655.8,400.7 655.0,403.1 655.3,404.1 C655.6,405.2 656.9,404.1 657.6,404.7 C658.3,405.3 658.9,405.6 659.3,407.6 C659.7,409.6 659.6,414.1 659.9,416.8 C660.2,419.5 660.5,421.8 661.0,423.7 C661.5,425.6 662.7,426.6 663.1,428.3 C663.5,430.0 663.4,432.2 663.4,433.8 C663.4,435.4 663.3,437.0 663.3,437.6" />
<path class="t" d="M662.8,474.0 C662.7,474.6 662.5,476.3 662.2,477.5 C661.9,478.7 661.5,480.0 661.0,481.0 C660.5,482.0 659.5,482.9 659.0,483.6 C658.5,484.3 657.9,484.5 657.8,485.0 C657.7,485.5 658.1,486.0 658.4,486.8 C658.6,487.6 659.0,488.4 659.3,490.0 C659.5,491.6 659.9,494.4 659.9,496.1 C659.9,497.8 659.6,498.9 659.4,500.0 C659.2,501.1 659.0,501.7 658.7,502.6 C658.4,503.5 658.2,504.7 657.7,505.5 C657.2,506.3 656.3,506.6 655.9,507.4 C655.5,508.1 655.4,508.9 655.3,510.0 C655.2,511.1 655.4,512.7 655.3,513.8 C655.2,514.9 655.0,515.8 654.8,516.6 C654.6,517.4 654.4,518.1 654.2,518.7 C654.0,519.3 653.7,520.0 653.4,520.4 C653.1,520.8 652.6,521.1 652.2,521.1 C651.8,521.1 651.1,520.5 650.8,520.5 C650.4,520.5 650.3,520.4 650.1,520.9 C649.9,521.4 649.5,522.6 649.4,523.5 C649.3,524.4 649.9,525.5 649.7,526.3 C649.5,527.1 648.7,527.5 648.4,528.3 C648.1,529.1 648.1,530.2 648.0,531.0 C647.9,531.8 647.9,532.7 647.7,533.2 C647.5,533.7 647.2,534.0 646.9,534.2 C646.6,534.4 646.4,534.5 645.9,534.2 C645.4,533.9 644.4,533.0 643.9,532.5 C643.4,532.0 643.1,531.4 642.8,531.4 C642.5,531.4 642.4,532.3 642.2,532.8 C642.0,533.3 641.9,533.8 641.8,534.6 C641.7,535.4 641.5,536.7 641.4,537.6 C641.3,538.5 641.2,539.4 641.1,540.1 C641.0,540.8 640.7,541.2 640.5,541.6 C640.3,542.0 640.1,542.1 639.7,542.2 C639.4,542.3 638.8,542.4 638.4,542.3 C638.0,542.2 637.6,542.1 637.3,541.8 C637.0,541.4 636.9,540.7 636.8,540.2 C636.7,539.7 636.7,539.2 636.6,538.7 C636.5,538.2 636.2,537.6 636.0,537.2 C635.8,536.9 635.5,536.6 635.2,536.6 C634.9,536.6 634.6,537.0 634.4,537.4 C634.2,537.8 634.0,538.1 633.8,538.7 C633.6,539.3 633.5,540.1 633.4,540.8 C633.3,541.5 633.3,542.2 633.1,542.8 C632.9,543.4 632.7,544.0 632.4,544.4 C632.1,544.8 631.6,545.1 631.4,545.3" />
<g>
<clipPath id="c1"><path d="M619.2,380.6 L632.9,381.0 L632.9,409.8 L607.6,410.0 Z"/></clipPath>
<path d="M619.2,380.6 L632.9,381.0 L632.9,409.8 L607.6,410.0 Z" fill="#e2e2e2" stroke="none"/>
<g clip-path="url(#c1)">
<path d="M630.0,380.2 A3.9,15.1 0 0 0 630.0,410.4" fill="none" stroke="#000" stroke-width="1.35"/>
<path d="M627.4,380.2 A3.9,15.1 0 0 0 627.4,410.4" fill="none" stroke="#000" stroke-width="1.35"/>
<path d="M624.9,380.2 A3.9,15.1 0 0 0 624.9,410.4" fill="none" stroke="#000" stroke-width="1.35"/>
<path d="M622.3,380.2 A3.9,15.1 0 0 0 622.3,410.4" fill="none" stroke="#000" stroke-width="1.35"/>
<path d="M619.8,380.2 A3.9,15.1 0 0 0 619.8,410.4" fill="none" stroke="#000" stroke-width="1.35"/>
<path d="M617.2,380.2 A3.9,15.1 0 0 0 617.2,410.4" fill="none" stroke="#000" stroke-width="1.35"/>
<path d="M614.6,380.2 A3.9,15.1 0 0 0 614.6,410.4" fill="none" stroke="#000" stroke-width="1.35"/>
<path d="M612.1,380.2 A3.9,15.1 0 0 0 612.1,410.4" fill="none" stroke="#000" stroke-width="1.35"/>
<path d="M609.5,380.2 A3.9,15.1 0 0 0 609.5,410.4" fill="none" stroke="#000" stroke-width="1.35"/>
<path d="M607.0,380.2 A3.9,15.1 0 0 0 607.0,410.4" fill="none" stroke="#000" stroke-width="1.35"/>
</g>
<line class="t" x1="619.2" y1="380.6" x2="607.6" y2="410.0" />
<line class="t" x1="619.2" y1="380.6" x2="632.9" y2="381.0" />
<line class="m" x1="607.6" y1="410.0" x2="632.9" y2="409.8" />
<ellipse class="t" cx="632.9" cy="395.3" rx="3.9" ry="14.1" style="fill:#e6e6e6"/>
<ellipse class="g" cx="632.6" cy="395.3" rx="2.6" ry="11.5" style="fill:#fff"/>
</g>
<g>
<clipPath id="c2"><path d="M607.6,496.6 L627.6,496.6 L627.6,525.6 L621.0,525.8 Z"/></clipPath>
<path d="M607.6,496.6 L627.6,496.6 L627.6,525.6 L621.0,525.8 Z" fill="#e2e2e2" stroke="none"/>
<g clip-path="url(#c2)">
<path d="M624.7,496.0 A3.9,15.1 0 0 0 624.7,526.2" fill="none" stroke="#000" stroke-width="1.35"/>
<path d="M622.1,496.0 A3.9,15.1 0 0 0 622.1,526.2" fill="none" stroke="#000" stroke-width="1.35"/>
<path d="M619.6,496.0 A3.9,15.1 0 0 0 619.6,526.2" fill="none" stroke="#000" stroke-width="1.35"/>
<path d="M617.0,496.0 A3.9,15.1 0 0 0 617.0,526.2" fill="none" stroke="#000" stroke-width="1.35"/>
<path d="M614.5,496.0 A3.9,15.1 0 0 0 614.5,526.2" fill="none" stroke="#000" stroke-width="1.35"/>
<path d="M611.9,496.0 A3.9,15.1 0 0 0 611.9,526.2" fill="none" stroke="#000" stroke-width="1.35"/>
<path d="M609.4,496.0 A3.9,15.1 0 0 0 609.4,526.2" fill="none" stroke="#000" stroke-width="1.35"/>
<path d="M606.8,496.0 A3.9,15.1 0 0 0 606.8,526.2" fill="none" stroke="#000" stroke-width="1.35"/>
<path d="M604.2,496.0 A3.9,15.1 0 0 0 604.2,526.2" fill="none" stroke="#000" stroke-width="1.35"/>
<path d="M601.7,496.0 A3.9,15.1 0 0 0 601.7,526.2" fill="none" stroke="#000" stroke-width="1.35"/>
</g>
<line class="t" x1="607.6" y1="496.6" x2="621.0" y2="525.8" />
<line class="t" x1="607.6" y1="496.6" x2="627.6" y2="496.6" />
<line class="m" x1="621.0" y1="525.8" x2="627.6" y2="525.6" />
<ellipse class="t" cx="627.6" cy="511.1" rx="3.9" ry="14.1" style="fill:#e6e6e6"/>
<ellipse class="g" cx="627.3" cy="511.1" rx="2.6" ry="11.5" style="fill:#fff"/>
</g>
<line class="t" x1="631.8" y1="395.2" x2="709.7" y2="395.4" />
<line class="t" x1="626.5" y1="511.2" x2="703.5" y2="511.4" />
<line class="t" x1="680.9" y1="322.9" x2="617.3" y2="443.7" />
<circle class="t" cx="681.3" cy="304.5" r="18.1" />
<line class="t" x1="679.3" y1="289.4" x2="679.3" y2="319.6" />
<line class="t" x1="675.0" y1="294.0" x2="675.0" y2="315.6" />
<line class="t" x1="671.3" y1="297.3" x2="671.3" y2="311.5" />
<line class="t" x1="679.3" y1="304.2" x2="694.4" y2="304.2" />
<path class="t" d="M615.9,449.2 L611.0,448.7 L603.5,446.4 L603.8,460.0 L604.1,472.9 L611.6,475.7 L612.7,472.9" />
<path class="t" d="M615.9,449.2 C616.4,449.4 617.8,449.8 618.6,450.4 C619.4,451.0 620.2,451.8 620.8,452.7 C621.4,453.6 621.8,454.6 622.1,455.6 C622.4,456.7 622.5,457.6 622.5,459.0 C622.5,460.4 622.5,462.4 622.3,464.0 C622.1,465.6 621.7,467.2 621.3,468.3 C620.9,469.4 620.4,470.1 619.8,470.8 C619.2,471.5 618.6,472.0 617.9,472.3 C617.2,472.6 616.3,472.8 615.4,472.9 C614.5,473.0 613.5,473.0 612.7,472.9 C611.9,472.8 611.1,472.7 610.4,472.4 C609.7,472.1 609.2,471.8 608.7,471.1 C608.2,470.4 607.8,469.4 607.5,468.4 C607.2,467.3 607.0,466.2 606.9,464.8 C606.8,463.4 606.8,461.6 606.8,460.0 C606.8,458.4 607.0,456.2 607.2,455.0 C607.4,453.8 607.7,453.3 608.0,452.6 C608.3,451.9 608.8,451.4 609.2,451.0 C609.6,450.6 610.1,450.2 610.6,450.0 C611.1,449.8 611.9,449.6 612.1,449.5" style="fill:#fff"/>
<path class="g" d="M612.7,451.0 C612.5,451.7 611.7,453.7 611.4,455.0 C611.1,456.3 611.0,457.3 611.0,459.0 C611.0,460.7 611.1,463.1 611.2,465.0 C611.3,466.9 611.7,469.7 611.8,470.6" />
<path class="g" d="M609.2,451.0 C609.1,451.8 608.5,454.2 608.3,456.0 C608.1,457.8 608.1,460.2 608.1,462.0 C608.1,463.8 608.2,465.5 608.4,467.0 C608.5,468.5 608.9,470.5 609.0,471.2" />
<ellipse class="t" cx="619.3" cy="461.3" rx="3.2" ry="7.8" style="fill:#f2f2f2"/>
<ellipse class="g" cx="619.5" cy="461.3" rx="2.1" ry="5.4" />
<line class="m" x1="619.3" y1="457.4" x2="619.3" y2="464.9" />
<line class="m" x1="617.1" y1="461.3" x2="621.4" y2="461.3" />
<path class="w" d="M639.2,436.6 L657.3,437.2 L664.8,437.4 L664.8,473 L657.9,472.9 L638.3,472.6 L638.3,445.5 L639.2,445.3 Z"/>
<line class="b" x1="638.3" y1="472.7" x2="657.9" y2="472.9" />
<line class="g" x1="653.4" y1="437.0" x2="653.4" y2="472.6" />
<line class="t" x1="658.2" y1="437.2" x2="658.2" y2="473.0" />
<line class="t" x1="659.7" y1="437.2" x2="659.7" y2="473.0" />
<line class="g" x1="662.0" y1="437.4" x2="662.0" y2="473.0" />
<path class="w" d="M655.6,444.5 L664.3,444.5 L664.3,452.9 L655.6,452.9 Q653.8,452.9 653.8,451.3 L653.8,446.1 Q653.8,444.5 655.6,444.5 Z"/>
<path class="w" d="M665.2,444.8 L671.7,444.8 A1.8,3.9 0 0 1 671.7,452.6 L665.2,452.6 Z"/>
<ellipse class="t" cx="671.6" cy="448.7" rx="1.7" ry="3.8" />
<path class="m" d="M664.6,444.5 A1.8,4.2 0 0 1 664.6,452.9"/>
<path class="m" d="M666.4,444.8 A1.6,3.9 0 0 0 666.4,452.6"/>
<line class="m" x1="655.6" y1="452.9" x2="664.3" y2="453.0" />
<line class="m" x1="665.2" y1="452.6" x2="671.7" y2="452.6" />
<path class="w" d="M655.6,457.0 L664.3,457.0 L664.3,465.4 L655.6,465.4 Q653.8,465.4 653.8,463.8 L653.8,458.6 Q653.8,457.0 655.6,457.0 Z"/>
<path class="w" d="M665.2,457.3 L671.7,457.3 A1.8,3.9 0 0 1 671.7,465.1 L665.2,465.1 Z"/>
<ellipse class="t" cx="671.6" cy="461.2" rx="1.7" ry="3.8" />
<path class="m" d="M664.6,457.0 A1.8,4.2 0 0 1 664.6,465.4"/>
<path class="m" d="M666.4,457.3 A1.6,3.9 0 0 0 666.4,465.1"/>
<line class="m" x1="655.6" y1="465.4" x2="664.3" y2="465.5" />
<line class="m" x1="665.2" y1="465.1" x2="671.7" y2="465.1" />
<line class="m" x1="658.9" y1="453.0" x2="658.9" y2="457.0" />
<line class="t" x1="649.8" y1="478.1" x2="671.3" y2="565.1" />
<circle class="t" cx="671.3" cy="593.9" r="28.8" />
<rect class="t" x="658.6" y="584.4" width="25.1" height="7.4" />
<rect class="t" x="658.6" y="595.9" width="25.1" height="7.2" />
<path class="t" d="M668.6,591.8 L668.6,593.0 L667.4,593.0 L667.4,594.8 L668.6,594.8 L668.6,595.9" />
<path class="t" d="M674.2,591.8 L674.2,593.0 L675.4,593.0 L675.4,594.8 L674.2,594.8 L674.2,595.9" />
<circle class="t" cx="671.6" cy="593.9" r="1.2" />
<circle class="t" cx="666.1" cy="588.2" r="3.2" />
<circle class="t" cx="666.1" cy="588.2" r="2.3" style="fill:#ddd"/>
<line class="m" x1="664.3" y1="586.6" x2="667.9" y2="589.8" />
<circle class="t" cx="676.5" cy="588.2" r="3.2" />
<circle class="t" cx="676.5" cy="588.2" r="2.3" style="fill:#ddd"/>
<line class="m" x1="674.7" y1="586.6" x2="678.3" y2="589.8" />
<circle class="t" cx="666.1" cy="599.7" r="3.2" />
<circle class="t" cx="666.1" cy="599.7" r="2.3" style="fill:#ddd"/>
<line class="m" x1="664.3" y1="598.1" x2="667.9" y2="601.3" />
<circle class="t" cx="676.5" cy="599.7" r="3.2" />
<circle class="t" cx="676.5" cy="599.7" r="2.3" style="fill:#ddd"/>
<line class="m" x1="674.7" y1="598.1" x2="678.3" y2="601.3" />
<line class="t" x1="643.4" y1="586.7" x2="658.6" y2="586.7" />
<line class="t" x1="683.7" y1="586.7" x2="699.2" y2="586.7" />
<line class="t" x1="642.8" y1="590.1" x2="658.6" y2="590.1" />
<line class="t" x1="683.7" y1="590.1" x2="699.8" y2="590.1" />
<line class="t" x1="642.9" y1="598.5" x2="658.6" y2="598.5" />
<line class="t" x1="683.7" y1="598.5" x2="699.7" y2="598.5" />
<line class="t" x1="643.5" y1="601.6" x2="658.6" y2="601.6" />
<line class="t" x1="683.7" y1="601.6" x2="699.1" y2="601.6" />
<path class="t" d="M657.4,582.0 L657.4,579.6 L660.6,579.6" />
<path class="t" d="M682.4,582.0 L682.4,579.6 L685.6,579.6" />
<path class="t" d="M657.1,605.5 L660.7,605.5 L657.1,608.1 L660.7,608.1" />
<path class="t" d="M682.1,605.5 L685.7,605.5 L682.1,608.1 L685.7,608.1" />
<path d="M719.1,390.7 L727.4,391.6 L727.4,400.0 L719.1,401.1 Z" fill="#1a1a1a"/>
<path d="M719.1,389.5 A2.9,6.4 0 0 0 719.1,402.3 A1.6,5.2 0 0 1 719.1,389.5 Z" fill="#fff" stroke="none"/>
<ellipse class="m" cx="719.0" cy="395.9" rx="2.9" ry="6.4" />
<path class="t" d="M719.9,390.9 A1.7,5.0 0 0 0 719.9,400.9"/>
<line class="g" x1="722.1" y1="393.1" x2="726.5" y2="398.7" style="stroke:#999;stroke-width:.6"/>
<line class="g" x1="722.1" y1="398.7" x2="726.5" y2="393.1" style="stroke:#999;stroke-width:.6"/>
<line class="m" x1="727.4" y1="391.6" x2="748.1" y2="391.6" />
<line class="m" x1="727.4" y1="400.0" x2="748.1" y2="400.0" />
<line class="g" x1="740.1" y1="400.9" x2="753.1" y2="400.9" />
<rect class="t" x="748.1" y="391.1" width="4.8" height="9.5" rx="1.6"/>
<path class="m" d="M755.0,391.1 C752.5,392.3 752.5,399.5 755.0,400.4"/>
<path class="g" d="M755.0,391.1 L757.0,391.1 C758.3,392.9 758.3,398.9 757.0,400.4 L755.0,400.4"/>
<path class="m" d="M759.5,391.1 C757.0,392.3 757.0,399.5 759.5,400.4"/>
<path class="g" d="M759.5,391.1 L761.5,391.1 C762.8,392.9 762.8,398.9 761.5,400.4 L759.5,400.4"/>
<path class="m" d="M764.0,391.1 C761.5,392.3 761.5,399.5 764.0,400.4"/>
<path class="g" d="M764.0,391.1 L766.0,391.1 C767.3,392.9 767.3,398.9 766.0,400.4 L764.0,400.4"/>
<path class="m" d="M768.5,391.1 C766.0,392.3 766.0,399.5 768.5,400.4"/>
<path class="g" d="M768.5,391.1 L770.5,391.1 C771.8,392.9 771.8,398.9 770.5,400.4 L768.5,400.4"/>
<path class="m" d="M773.0,391.1 C770.5,392.3 770.5,399.5 773.0,400.4"/>
<path class="g" d="M773.0,391.1 L775.0,391.1 C776.3,392.9 776.3,398.9 775.0,400.4 L773.0,400.4"/>
<path class="m" d="M777.5,391.1 C775.0,392.3 775.0,399.5 777.5,400.4"/>
<path class="g" d="M777.5,391.1 L779.5,391.1 C780.8,392.9 780.8,398.9 779.5,400.4 L777.5,400.4"/>
<path d="M713.3,506.2 L721.6,507.1 L721.6,515.5 L713.3,516.6 Z" fill="#1a1a1a"/>
<path d="M713.3,505.0 A2.9,6.4 0 0 0 713.3,517.8 A1.6,5.2 0 0 1 713.3,505.0 Z" fill="#fff" stroke="none"/>
<ellipse class="m" cx="713.2" cy="511.4" rx="2.9" ry="6.4" />
<path class="t" d="M714.1,506.4 A1.7,5.0 0 0 0 714.1,516.4"/>
<line class="g" x1="716.3" y1="508.6" x2="720.7" y2="514.2" style="stroke:#999;stroke-width:.6"/>
<line class="g" x1="716.3" y1="514.2" x2="720.7" y2="508.6" style="stroke:#999;stroke-width:.6"/>
<line class="m" x1="721.6" y1="507.1" x2="742.3" y2="507.1" />
<line class="m" x1="721.6" y1="515.5" x2="742.3" y2="515.5" />
<line class="g" x1="734.3" y1="516.4" x2="747.3" y2="516.4" />
<rect class="t" x="742.3" y="506.6" width="4.8" height="9.5" rx="1.6"/>
<path class="m" d="M749.2,506.6 C746.7,507.8 746.7,515.0 749.2,515.9"/>
<path class="g" d="M749.2,506.6 L751.2,506.6 C752.5,508.4 752.5,514.4 751.2,515.9 L749.2,515.9"/>
<path class="m" d="M753.7,506.6 C751.2,507.8 751.2,515.0 753.7,515.9"/>
<path class="g" d="M753.7,506.6 L755.7,506.6 C757.0,508.4 757.0,514.4 755.7,515.9 L753.7,515.9"/>
<path class="m" d="M758.2,506.6 C755.7,507.8 755.7,515.0 758.2,515.9"/>
<path class="g" d="M758.2,506.6 L760.2,506.6 C761.5,508.4 761.5,514.4 760.2,515.9 L758.2,515.9"/>
<path class="m" d="M762.7,506.6 C760.2,507.8 760.2,515.0 762.7,515.9"/>
<path class="g" d="M762.7,506.6 L764.7,506.6 C766.0,508.4 766.0,514.4 764.7,515.9 L762.7,515.9"/>
<path class="m" d="M767.2,506.6 C764.7,507.8 764.7,515.0 767.2,515.9"/>
<path class="g" d="M767.2,506.6 L769.2,506.6 C770.5,508.4 770.5,514.4 769.2,515.9 L767.2,515.9"/>
<path class="m" d="M771.7,506.6 C769.2,507.8 769.2,515.0 771.7,515.9"/>
<path class="g" d="M771.7,506.6 L773.7,506.6 C775.0,508.4 775.0,514.4 773.7,515.9 L771.7,515.9"/>
<line class="t" x1="768.9" y1="407.1" x2="752.1" y2="434.7" />
<line class="t" x1="752.1" y1="470.9" x2="760.8" y2="496.8" />
<!-- left -->
<path class="t" d="M156.2,537.7 L152.5,533.0 L149.0,527.6 L145.8,521.4 L142.9,514.7 L140.3,507.4 L138.1,499.6 L136.3,491.4 L134.8,482.8 L133.8,474.0 L133.2,465.1 L133.0,456.0 L133.2,447.0 L133.9,438.0 L135.0,429.3 L136.5,420.7 L138.3,412.6 L140.6,404.8 L143.2,397.6 L146.1,390.9 L149.3,384.8 L152.8,379.5 L156.6,374.9 L160.5,371.0 L164.6,368.0 L168.8,365.8 L173.1,364.5 L177.4,364.1 L181.8,364.6 L186.1,365.9 L190.3,368.1 L194.4,371.2 L198.3,375.1 L202.0,379.8 L205.5,385.2 L208.7,391.3 L211.6,398.0 L214.2,405.3 L216.4,413.1 L218.3,421.3 L219.7,429.8" />
<path class="t" d="M221.4,478.3 C221.2,479.6 220.7,483.4 220.2,486.0 C219.7,488.6 219.1,491.3 218.4,494.0 C217.7,496.7 216.6,500.7 216.2,502.0" />
<path class="t" d="M157.3,533.1 L165.8,542.6 L155.4,544.5 Z" />
<path class="t" d="M215.0,500.8 L219.0,509.0 L209.7,517.2 Z" />
<path class="t" d="M219.4,429.8 C218.8,429.2 216.9,427.5 215.5,426.2 C214.1,424.9 212.7,423.5 211.2,422.2 C209.7,420.9 208.2,419.9 206.5,418.6 C204.8,417.3 202.9,415.8 201.0,414.6 C199.1,413.4 197.1,412.3 195.0,411.2 C192.9,410.1 190.6,409.1 188.4,408.2 C186.2,407.3 184.0,406.2 182.0,405.6 C180.0,405.0 178.1,404.5 176.3,404.4 C174.5,404.3 172.8,404.4 171.0,404.8 C169.2,405.2 167.1,405.9 165.6,407.0 C164.1,408.1 163.1,409.7 162.0,411.4 C160.9,413.1 160.1,415.0 159.2,417.1 C158.3,419.2 157.2,421.5 156.4,423.8 C155.6,426.1 154.7,428.5 154.1,431.0 C153.5,433.5 153.2,436.2 152.8,439.0 C152.4,441.8 152.1,444.7 151.9,447.5 C151.7,450.3 151.6,453.1 151.7,456.0 C151.8,458.9 151.9,462.6 152.2,465.0 C152.5,467.4 152.9,467.8 153.5,470.3 C154.1,472.8 154.9,476.8 155.8,480.0 C156.8,483.2 158.1,486.9 159.2,489.4 C160.3,491.9 161.3,493.3 162.6,495.0 C163.9,496.7 165.4,498.2 166.8,499.5 C168.2,500.8 169.4,501.9 170.8,502.8 C172.2,503.7 173.7,504.6 175.1,504.6 C176.5,504.6 178.1,503.5 179.5,503.0 C180.9,502.5 181.6,502.1 183.3,501.4 C185.1,500.7 187.9,499.6 190.0,498.6 C192.1,497.7 193.9,496.9 196.0,495.7 C198.1,494.5 200.4,492.9 202.5,491.4 C204.6,489.9 206.7,488.3 208.6,486.8 C210.5,485.3 212.3,483.8 214.0,482.4 C215.7,481.0 218.0,478.9 218.8,478.2" />
<path class="g" d="M164.5,407.4 C163.9,408.1 161.9,410.1 160.8,411.8 C159.7,413.5 158.9,415.4 157.9,417.5 C156.9,419.6 155.9,421.9 155.0,424.2 C154.1,426.5 153.3,428.9 152.7,431.4 C152.0,433.9 151.7,436.6 151.3,439.4 C150.9,442.1 150.6,445.1 150.4,447.9 C150.2,450.7 150.1,453.5 150.2,456.4 C150.3,459.3 150.4,463.0 150.7,465.4 C151.0,467.8 151.4,468.2 152.1,470.7 C152.7,473.2 153.4,477.2 154.4,480.4 C155.4,483.6 156.7,487.3 157.9,489.8 C159.1,492.3 160.1,493.7 161.4,495.4 C162.7,497.1 164.3,498.6 165.7,499.9 C167.1,501.2 169.1,502.6 169.8,503.2" />
<path class="g" d="M163.0,411.4 C162.5,412.3 161.1,415.0 160.2,417.1 C159.3,419.2 158.2,421.5 157.4,423.8 C156.6,426.1 155.7,428.5 155.1,431.0 C154.5,433.5 154.2,436.2 153.8,439.0 C153.4,441.8 153.1,444.7 152.9,447.5 C152.7,450.3 152.6,453.1 152.7,456.0 C152.8,458.9 152.9,462.6 153.2,465.0 C153.5,467.4 153.9,467.8 154.5,470.3 C155.1,472.8 155.9,476.8 156.8,480.0 C157.8,483.2 159.1,486.9 160.2,489.4 C161.3,491.9 162.3,493.3 163.6,495.0 C164.9,496.7 167.1,498.8 167.8,499.5" />
<path class="g" d="M154.3,424.4 C153.9,425.6 152.6,429.1 152.0,431.6 C151.3,434.1 151.0,436.9 150.6,439.6 C150.2,442.4 149.9,445.3 149.7,448.1 C149.5,450.9 149.4,453.7 149.5,456.6 C149.6,459.5 149.7,463.2 150.0,465.6 C150.3,468.0 150.7,468.4 151.4,470.9 C152.0,473.4 152.7,477.4 153.7,480.6 C154.7,483.8 156.0,487.5 157.2,490.0 C158.3,492.5 160.1,494.7 160.6,495.6" />
<path class="w" d="M216.9,430.2 L248.6,430.2 A16.2,24 0 0 1 248.3,478.2 L217.5,478.2 A11,24 0 0 1 216.9,430.2 Z"/>
<path class="g" d="M248.6,430.2 A10.4,24 0 0 0 248.3,478.2"/>
<line class="t" x1="206.5" y1="452.4" x2="238.2" y2="452.4" />
<ellipse class="g" cx="258.4" cy="454.1" rx="6.3" ry="13.7" />
<rect class="w" x="252.6" y="449.8" width="4.6" height="7.5" />
<ellipse class="g" cx="252.9" cy="453.5" rx="1.0" ry="3.7" />
<path class="w" d="M257.2,448.6 L265.3,448.6 L265.3,458.4 L257.2,458.4 Z"/>
<path class="t" d="M259.3,448.6 Q258,453.5 259.3,458.4 M262.8,448.6 Q261.5,453.5 262.8,458.4"/>
<line class="m" x1="263.3" y1="448.6" x2="266.0" y2="448.4" />
<path class="w" d="M266.6,449.8 L273.4,449.8 A2.3,5.5 0 0 1 273.4,460.7 L266.6,460.7 Z"/>
<ellipse class="t" cx="273.3" cy="455.3" rx="2.3" ry="5.4" />
<line class="g" x1="269.8" y1="449.8" x2="269.8" y2="460.7" />
<line class="t" x1="204.4" y1="536.1" x2="235.2" y2="577.6" />
<line class="t" x1="81.3" y1="451.0" x2="99.3" y2="451.0" />
<path class="t" d="M99.3,448.5 L99.3,453.6 L109.4,451.2 Z" />
<path class="d" d="M104.0,450.4 L109.6,451.2 L104.0,452.2 Z" />
<path class="m" d="M260.1,397.1 L257.6,397.0 A3.2,4.6 0 0 0 257.6,406.1 L260.1,406.0 Z"/>
<line class="t" x1="255.0" y1="401.8" x2="260.0" y2="401.8" />
<path d="M260.1,399.8 L278.2,399.8 L278.2,403.9 L260.1,403.9 Z" fill="#e8e8e8" stroke="#000" stroke-width=".5"/>
<path d="M278.2,399.0 L305.6,399.2 L305.6,404.2 L278.2,404.4 Z" fill="#f4f4f4" stroke="#000" stroke-width=".55"/>
<line class="g" x1="280.1" y1="399.1" x2="280.1" y2="404.3" style="stroke-width:.6"/>
<line class="g" x1="281.9" y1="399.1" x2="281.9" y2="404.3" style="stroke-width:.6"/>
<line class="g" x1="283.8" y1="399.1" x2="283.8" y2="404.3" style="stroke-width:.6"/>
<line class="g" x1="285.6" y1="399.1" x2="285.6" y2="404.3" style="stroke-width:.6"/>
<line class="g" x1="287.4" y1="399.1" x2="287.4" y2="404.3" style="stroke-width:.6"/>
<line class="g" x1="289.3" y1="399.1" x2="289.3" y2="404.3" style="stroke-width:.6"/>
<line class="g" x1="291.1" y1="399.1" x2="291.1" y2="404.3" style="stroke-width:.6"/>
<line class="g" x1="293.0" y1="399.1" x2="293.0" y2="404.3" style="stroke-width:.6"/>
<line class="g" x1="294.8" y1="399.1" x2="294.8" y2="404.3" style="stroke-width:.6"/>
<line class="g" x1="296.7" y1="399.1" x2="296.7" y2="404.3" style="stroke-width:.6"/>
<line class="g" x1="298.6" y1="399.1" x2="298.6" y2="404.3" style="stroke-width:.6"/>
<line class="g" x1="300.4" y1="399.1" x2="300.4" y2="404.3" style="stroke-width:.6"/>
<line class="g" x1="302.2" y1="399.1" x2="302.2" y2="404.3" style="stroke-width:.6"/>
<line class="g" x1="304.1" y1="399.1" x2="304.1" y2="404.3" style="stroke-width:.6"/>
<path d="M305.6,400.1 L314.6,401.7 L305.6,403.3 Z" fill="#555" stroke="#000" stroke-width=".4"/>
<path class="m" d="M260.1,513.0 L257.6,512.9 A3.2,4.6 0 0 0 257.6,522.0 L260.1,521.9 Z"/>
<line class="t" x1="255.0" y1="517.7" x2="260.0" y2="517.7" />
<path d="M260.1,515.7 L278.2,515.7 L278.2,519.8 L260.1,519.8 Z" fill="#e8e8e8" stroke="#000" stroke-width=".5"/>
<path d="M278.2,514.9 L305.6,515.1 L305.6,520.1 L278.2,520.3 Z" fill="#f4f4f4" stroke="#000" stroke-width=".55"/>
<line class="g" x1="280.1" y1="515.0" x2="280.1" y2="520.2" style="stroke-width:.6"/>
<line class="g" x1="281.9" y1="515.0" x2="281.9" y2="520.2" style="stroke-width:.6"/>
<line class="g" x1="283.8" y1="515.0" x2="283.8" y2="520.2" style="stroke-width:.6"/>
<line class="g" x1="285.6" y1="515.0" x2="285.6" y2="520.2" style="stroke-width:.6"/>
<line class="g" x1="287.4" y1="515.0" x2="287.4" y2="520.2" style="stroke-width:.6"/>
<line class="g" x1="289.3" y1="515.0" x2="289.3" y2="520.2" style="stroke-width:.6"/>
<line class="g" x1="291.1" y1="515.0" x2="291.1" y2="520.2" style="stroke-width:.6"/>
<line class="g" x1="293.0" y1="515.0" x2="293.0" y2="520.2" style="stroke-width:.6"/>
<line class="g" x1="294.8" y1="515.0" x2="294.8" y2="520.2" style="stroke-width:.6"/>
<line class="g" x1="296.7" y1="515.0" x2="296.7" y2="520.2" style="stroke-width:.6"/>
<line class="g" x1="298.6" y1="515.0" x2="298.6" y2="520.2" style="stroke-width:.6"/>
<line class="g" x1="300.4" y1="515.0" x2="300.4" y2="520.2" style="stroke-width:.6"/>
<line class="g" x1="302.2" y1="515.0" x2="302.2" y2="520.2" style="stroke-width:.6"/>
<line class="g" x1="304.1" y1="515.0" x2="304.1" y2="520.2" style="stroke-width:.6"/>
<path d="M305.6,516.0 L314.6,517.6 L305.6,519.2 Z" fill="#555" stroke="#000" stroke-width=".4"/>
<!-- box1 -->
<path d="M800.6,534.6 L801.7,536.2 L803.2,538 L797.4,586.6 L792.6,585.6 L797.6,538 L799.2,536.4 Z" fill="#111"/>
<line class="g" x1="797.7" y1="538.5" x2="798.3" y2="539.7" style="stroke:#fff;stroke-width:.5"/>
<line class="g" x1="802.8" y1="538.9" x2="803.4" y2="540.1" style="stroke:#fff;stroke-width:.5"/>
<line class="g" x1="797.5" y1="540.4" x2="798.1" y2="541.6" style="stroke:#fff;stroke-width:.5"/>
<line class="g" x1="802.6" y1="540.8" x2="803.2" y2="542.0" style="stroke:#fff;stroke-width:.5"/>
<line class="g" x1="797.3" y1="542.4" x2="797.9" y2="543.6" style="stroke:#fff;stroke-width:.5"/>
<line class="g" x1="802.4" y1="542.8" x2="803.0" y2="544.0" style="stroke:#fff;stroke-width:.5"/>
<line class="g" x1="797.1" y1="544.3" x2="797.7" y2="545.5" style="stroke:#fff;stroke-width:.5"/>
<line class="g" x1="802.2" y1="544.7" x2="802.8" y2="545.9" style="stroke:#fff;stroke-width:.5"/>
<line class="g" x1="796.9" y1="546.2" x2="797.5" y2="547.5" style="stroke:#fff;stroke-width:.5"/>
<line class="g" x1="802.0" y1="546.6" x2="802.6" y2="547.9" style="stroke:#fff;stroke-width:.5"/>
<line class="g" x1="796.7" y1="548.2" x2="797.3" y2="549.4" style="stroke:#fff;stroke-width:.5"/>
<line class="g" x1="801.8" y1="548.6" x2="802.4" y2="549.8" style="stroke:#fff;stroke-width:.5"/>
<line class="g" x1="796.5" y1="550.1" x2="797.1" y2="551.3" style="stroke:#fff;stroke-width:.5"/>
<line class="g" x1="801.6" y1="550.5" x2="802.1" y2="551.7" style="stroke:#fff;stroke-width:.5"/>
<line class="g" x1="796.2" y1="552.1" x2="796.8" y2="553.3" style="stroke:#fff;stroke-width:.5"/>
<line class="g" x1="801.3" y1="552.5" x2="801.9" y2="553.7" style="stroke:#fff;stroke-width:.5"/>
<line class="g" x1="796.0" y1="554.0" x2="796.6" y2="555.2" style="stroke:#fff;stroke-width:.5"/>
<line class="g" x1="801.1" y1="554.4" x2="801.7" y2="555.6" style="stroke:#fff;stroke-width:.5"/>
<line class="g" x1="795.8" y1="555.9" x2="796.4" y2="557.1" style="stroke:#fff;stroke-width:.5"/>
<line class="g" x1="800.9" y1="556.3" x2="801.5" y2="557.5" style="stroke:#fff;stroke-width:.5"/>
<line class="g" x1="795.6" y1="557.9" x2="796.2" y2="559.1" style="stroke:#fff;stroke-width:.5"/>
<line class="g" x1="800.7" y1="558.3" x2="801.3" y2="559.5" style="stroke:#fff;stroke-width:.5"/>
<line class="g" x1="795.4" y1="559.8" x2="796.0" y2="561.0" style="stroke:#fff;stroke-width:.5"/>
<line class="g" x1="800.5" y1="560.2" x2="801.1" y2="561.4" style="stroke:#fff;stroke-width:.5"/>
<line class="g" x1="795.2" y1="561.8" x2="795.8" y2="563.0" style="stroke:#fff;stroke-width:.5"/>
<line class="g" x1="800.3" y1="562.1" x2="800.9" y2="563.4" style="stroke:#fff;stroke-width:.5"/>
<line class="g" x1="795.0" y1="563.7" x2="795.6" y2="564.9" style="stroke:#fff;stroke-width:.5"/>
<line class="g" x1="800.1" y1="564.1" x2="800.7" y2="565.3" style="stroke:#fff;stroke-width:.5"/>
<line class="g" x1="794.8" y1="565.6" x2="795.4" y2="566.8" style="stroke:#fff;stroke-width:.5"/>
<line class="g" x1="799.9" y1="566.0" x2="800.5" y2="567.2" style="stroke:#fff;stroke-width:.5"/>
<line class="g" x1="794.6" y1="567.6" x2="795.2" y2="568.8" style="stroke:#fff;stroke-width:.5"/>
<line class="g" x1="799.7" y1="568.0" x2="800.3" y2="569.2" style="stroke:#fff;stroke-width:.5"/>
<line class="g" x1="794.4" y1="569.5" x2="795.0" y2="570.7" style="stroke:#fff;stroke-width:.5"/>
<line class="g" x1="799.5" y1="569.9" x2="800.1" y2="571.1" style="stroke:#fff;stroke-width:.5"/>
<line class="g" x1="794.2" y1="571.4" x2="794.8" y2="572.6" style="stroke:#fff;stroke-width:.5"/>
<line class="g" x1="799.3" y1="571.8" x2="799.9" y2="573.0" style="stroke:#fff;stroke-width:.5"/>
<line class="g" x1="794.0" y1="573.4" x2="794.6" y2="574.6" style="stroke:#fff;stroke-width:.5"/>
<line class="g" x1="799.1" y1="573.8" x2="799.6" y2="575.0" style="stroke:#fff;stroke-width:.5"/>
<line class="g" x1="793.7" y1="575.3" x2="794.3" y2="576.5" style="stroke:#fff;stroke-width:.5"/>
<line class="g" x1="798.8" y1="575.7" x2="799.4" y2="576.9" style="stroke:#fff;stroke-width:.5"/>
<line class="g" x1="793.5" y1="577.2" x2="794.1" y2="578.5" style="stroke:#fff;stroke-width:.5"/>
<line class="g" x1="798.6" y1="577.6" x2="799.2" y2="578.9" style="stroke:#fff;stroke-width:.5"/>
<line class="g" x1="793.3" y1="579.2" x2="793.9" y2="580.4" style="stroke:#fff;stroke-width:.5"/>
<line class="g" x1="798.4" y1="579.6" x2="799.0" y2="580.8" style="stroke:#fff;stroke-width:.5"/>
<line class="g" x1="793.1" y1="581.1" x2="793.7" y2="582.3" style="stroke:#fff;stroke-width:.5"/>
<line class="g" x1="798.2" y1="581.5" x2="798.8" y2="582.7" style="stroke:#fff;stroke-width:.5"/>
<line class="g" x1="792.9" y1="583.1" x2="793.5" y2="584.3" style="stroke:#fff;stroke-width:.5"/>
<line class="g" x1="798.0" y1="583.5" x2="798.6" y2="584.7" style="stroke:#fff;stroke-width:.5"/>
<line class="g" x1="797.5" y1="560.0" x2="797.0" y2="566.0" style="stroke:#999;stroke-width:.6"/>
<line class="g" x1="798.5" y1="545.0" x2="798.0" y2="551.0" style="stroke:#999;stroke-width:.6"/>
<line class="g" x1="796.0" y1="574.0" x2="795.6" y2="580.0" style="stroke:#999;stroke-width:.6"/>
<ellipse class="w" cx="795.0" cy="586.6" rx="2.5" ry="1.3" transform="rotate(12 795 586.6)" style="stroke-width:.9"/>
<text transform="translate(805.5,560.7) rotate(90)" font-size="8.6">x2</text>
<path d="M823.5,535 C826.5,535 828,538 828.5,541 L828.6,560 L831.3,564.3 L831.3,566.2 L828.2,566.4 L828.2,579.6 L830.2,579.8 L830.2,581.2 L817,581.2 L817,579.8 L819.4,579.6 L819.4,566.4 L815.4,566.2 L815.4,564.3 L818.6,560 L818.7,541 C819,538 820.5,535 823.5,535 Z" fill="#111"/>
<rect x="820.5" y="538.5" width="1.7" height="2.3" fill="#fff"/>
<rect x="825.1" y="538.5" width="1.7" height="2.3" fill="#fff"/>
<rect x="820.2" y="543.3" width="1.7" height="2.3" fill="#fff"/>
<rect x="825.4" y="543.3" width="1.7" height="2.3" fill="#fff"/>
<rect x="820.2" y="548.1" width="1.7" height="2.3" fill="#fff"/>
<rect x="825.4" y="548.1" width="1.7" height="2.3" fill="#fff"/>
<rect x="820.2" y="552.9" width="1.7" height="2.3" fill="#fff"/>
<rect x="825.4" y="552.9" width="1.7" height="2.3" fill="#fff"/>
<rect x="820.2" y="557.7" width="1.7" height="2.3" fill="#fff"/>
<rect x="825.4" y="557.7" width="1.7" height="2.3" fill="#fff"/>
<rect x="820.2" y="562.3" width="1.7" height="2.3" fill="#fff"/>
<rect x="825.4" y="562.3" width="1.7" height="2.3" fill="#fff"/>
<path d="M822.4,537 L823.2,563 M824.6,537 L823.9,563" stroke="#fff" stroke-width=".5" fill="none"/>
<rect x="821.2" y="575.9" width="4.9" height="3.2" fill="#fff"/>
<rect x="820.3" y="567.2" width="6.8" height="1.0" fill="#fff" opacity=".8"/>
<path class="b" d="M740.8,660.0 L761.5,660.0 L758.4,675.8 L761.5,687.8 L740.8,688.2 L737.5,675.8 Z" />
<path class="b" d="M737.5,675.6 L758.4,675.9" />
<path class="t" d="M737.8,677.2 L758.2,677.4" />
<path class="b" d="M761.5,660.0 L764.7,668.4 L762.4,674.9 L758.4,675.8" />
<path class="t" d="M759.8,662.0 L758.9,674.8" />
<path class="m" d="M762.4,674.9 L761.6,681.3 L761.5,687.8" />
<path class="b" d="M764.7,668.4 L786.4,662.4 L786.4,661.1 L796.6,661.1" />
<path class="m" d="M765.4,669.8 L786.4,663.9" />
<path class="b" d="M786.4,662.4 L791.9,662.4 L790.1,669.8 L785.5,676.7" />
<path class="b" d="M762.4,674.9 L786.4,671.7 L787.6,664.4" />
<path class="b" d="M761.5,681.3 L785.5,676.7 L790.1,672.4 L798.4,668.4" />
<path class="b" d="M761.5,685.0 L787.3,680.4 L798.4,679.5 L811.5,677.4" />
<path class="m" d="M762.5,686.4 L787.3,681.6 L797.0,680.4" />
<path class="b" d="M790.1,669.8 L797.4,666.2" />
<path class="b" d="M797.1,660.3 L797.5,669.5 L799.8,678.7" />
<path class="m" d="M801.6,669.4 L804.0,678.3" />
<path class="b" d="M797.6,668.9 C798.1,668.7 799.3,667.8 800.4,667.6 C801.5,667.4 803.0,667.5 804.0,667.7 C805.0,667.9 805.8,668.3 806.6,668.8 C807.4,669.2 808.0,669.6 808.6,670.4 C809.2,671.2 809.8,672.3 810.2,673.4 C810.7,674.5 811.1,676.3 811.3,676.9" />
<path class="b" d="M797.1,660.3 L802.1,642.3 L815.0,642.8 L816.9,644.6" />
<path class="m" d="M810.9,643.2 L804.9,665.8" />
<path class="m" d="M816.9,644.6 L810.9,671.4" />
<path class="m" d="M818.6,649.0 L812.3,676.9" />
<path class="b" d="M820.1,641.9 L817.8,656.6 L812.3,677.8" />
<path class="b" d="M804.0,641.4 L807.6,631.7 L810.4,625.7" />
<path class="b" d="M820.1,641.9 L820.6,632.2 L818.7,626.7" />
<path class="b" d="M806.3,636.3 C806.7,636.0 807.8,635.0 808.6,634.6 C809.4,634.2 810.3,634.0 811.3,634.0 C812.3,634.0 813.5,634.3 814.4,634.6 C815.3,634.9 816.1,635.3 816.9,635.9 C817.7,636.5 818.5,637.2 819.0,638.0 C819.5,638.8 819.9,640.1 820.1,640.5" />
<path class="m" d="M808.6,628.4 C809.1,628.2 810.5,627.3 811.6,627.0 C812.7,626.7 814.0,626.6 815.0,626.7 C816.0,626.8 816.9,627.2 817.6,627.6 C818.3,628.0 819.1,628.9 819.4,629.2" />
<path class="b" d="M810.4,625.7 C810.7,625.5 811.6,624.7 812.4,624.4 C813.2,624.1 814.2,623.8 815.0,623.9 C815.8,624.0 816.6,624.3 817.2,624.8 C817.8,625.3 818.5,626.4 818.7,626.7" />
<line class="k" x1="816.6" y1="622.8" x2="818.6" y2="612.6" style="stroke-width:2.2;stroke:#222;stroke-linecap:round"/>
<line class="g" x1="815.9" y1="620.0" x2="818.3" y2="620.5" style="stroke:#fff;stroke-width:.55"/>
<line class="g" x1="816.4" y1="617.4" x2="818.8" y2="618.0" style="stroke:#fff;stroke-width:.55"/>
<line class="g" x1="816.9" y1="614.9" x2="819.3" y2="615.4" style="stroke:#fff;stroke-width:.55"/>
</svg>
</body></html>
